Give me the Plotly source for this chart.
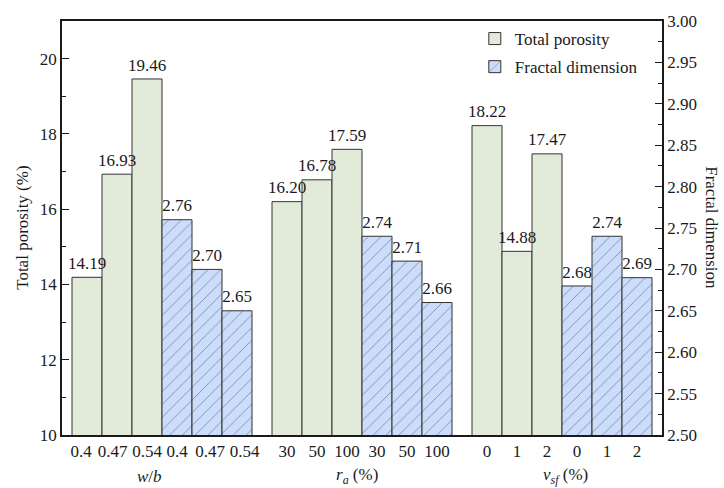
import plotly.graph_objects as go

# Mix-design parameters and measured results
group_titles = ["<i>w</i>/<i>b</i>", "<i>r</i><sub><i>a</i></sub> (%)", "<i>v</i><sub><i>sf</i></sub> (%)"]
group_levels = [["0.4", "0.47", "0.54"], ["30", "50", "100"], ["0", "1", "2"]]
total_porosity = [[14.19, 16.93, 19.46], [16.20, 16.78, 17.59], [18.22, 14.88, 17.47]]
fractal_dimension = [[2.76, 2.70, 2.65], [2.74, 2.71, 2.66], [2.68, 2.74, 2.69]]

FONT = "Liberation Serif"
INK = "#1a1a1a"
GREEN = "#E2EBDA"
BLUE = "#CCDCFB"
EDGE = "#333333"
FS = 17

# Each group holds 6 unit-wide bars: 3 porosity then 3 fractal dimension
GROUP_STEP = 20 / 3
LEAD = 1 / 3
# The wide decimal labels of the first group are spread slightly so they don't touch
LABEL_SPREAD = [[-0.2, -0.15, 0.0, 0.0, 0.1, 0.25], [0] * 6, [0] * 6]


def bar_x(g, j):
    return g * GROUP_STEP + LEAD + 0.5 + j


por_x, por_y, por_t = [], [], []
fd_x, fd_y, fd_t = [], [], []
tick_vals, tick_text = [], []
for g in range(3):
    for j, v in enumerate(total_porosity[g]):
        por_x.append(bar_x(g, j))
        por_y.append(v)
        por_t.append(f"{v:.2f}")
    for j, v in enumerate(fractal_dimension[g]):
        fd_x.append(bar_x(g, j + 3))
        fd_y.append(v)
        fd_t.append(f"{v:.2f}")
    for j, lab in enumerate(group_levels[g] * 2):
        tick_vals.append(bar_x(g, j) + LABEL_SPREAD[g][j])
        tick_text.append(lab)

text_font = dict(family=FONT, size=FS, color=INK)

fig = go.Figure()
fig.add_trace(go.Bar(
    x=por_x, y=por_y, width=1, name="Total porosity", legendgroup="por",
    marker=dict(color=GREEN, line=dict(color=EDGE, width=1)),
    yaxis="y",
))
fig.add_trace(go.Bar(
    x=fd_x, y=fd_y, width=1, name="Fractal dimension", legendgroup="fd",
    marker=dict(color=BLUE, line=dict(color=EDGE, width=1),
                pattern=dict(shape="/", fgcolor="#3a3f4a", bgcolor=BLUE,
                             size=9, solidity=0.1)),
    yaxis="y2",
))
# Value labels drawn above all bars so neighbouring bars never hide them;
# the transparent marker just lifts each label off its bar top
label_style = dict(mode="markers+text", textposition="top center",
                   marker=dict(size=5, color="rgba(0,0,0,0)"),
                   textfont=text_font, cliponaxis=False, showlegend=False,
                   hoverinfo="skip")
fig.add_trace(go.Scatter(x=por_x, y=por_y, text=por_t, yaxis="y", **label_style))
fig.add_trace(go.Scatter(x=fd_x, y=fd_y, text=fd_t, yaxis="y2", **label_style))

axis_common = dict(
    showline=True, linecolor=INK, linewidth=1.5, showgrid=False, zeroline=False,
    tickfont=text_font,
)

fig.update_layout(
    width=724, height=488,
    margin=dict(l=62, r=62, t=15, b=53),
    paper_bgcolor="white", plot_bgcolor="white",
    barmode="overlay",
    font=text_font,
    showlegend=True,
    legend=dict(x=0.688, y=1.0, xanchor="left", yanchor="top",
                bgcolor="rgba(0,0,0,0)", font=text_font,
                traceorder="grouped", tracegroupgap=3),
    xaxis=dict(range=[0, 20], tickvals=tick_vals, ticktext=tick_text,
               tickangle=0, ticks="", mirror=True, **axis_common),
    yaxis=dict(range=[10, 21], tickvals=list(range(10, 21, 2)), ticks="inside",
               ticklen=7, tickwidth=1.2, tickcolor=INK,
               minor=dict(dtick=1, ticks="inside", ticklen=4, tickcolor=INK, tickwidth=1.2),
               **axis_common),
    yaxis2=dict(range=[2.5, 3.0], overlaying="y", side="right",
                tickvals=[2.5 + i * 0.05 for i in range(11)],
                tickformat=".2f",
                ticks="inside", ticklen=7, tickwidth=1.2, tickcolor=INK,
                minor=dict(dtick=0.025, ticks="inside", ticklen=4, tickcolor=INK, tickwidth=1.2),
                **axis_common),
)

# Axis titles
fig.add_annotation(text="Total porosity (%)", textangle=-90, x=-0.067, xref="paper",
                   y=0.5, yref="paper", showarrow=False, xanchor="center",
                   font=text_font)
fig.add_annotation(text="Fractal dimension", textangle=90, x=1.083, xref="paper",
                   y=0.5, yref="paper", showarrow=False, xanchor="center",
                   font=text_font)

# Group captions under the level labels
group_label_x = [2.93, 9.83, 16.77]
for g, title in enumerate(group_titles):
    fig.add_annotation(text=title, x=group_label_x[g], xref="x", y=-0.1, yref="paper",
                       yanchor="middle", showarrow=False, font=text_font)

fig.write_html("out.html")
